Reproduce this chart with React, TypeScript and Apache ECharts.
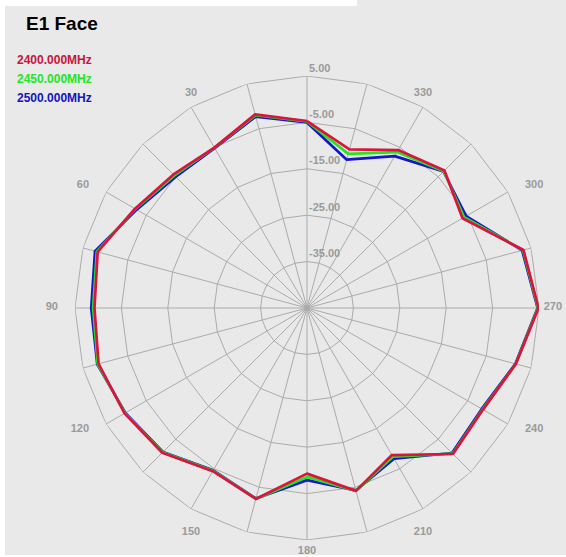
import React, { useEffect, useRef } from "react";
import * as echarts from "echarts";

// Measurement angles (degrees, counter-clockwise from top)
const angles = [0, 15, 30, 45, 60, 75, 90, 105, 120, 135, 150, 165, 180, 195, 210, 225, 240, 255, 270, 285, 300, 315, 330, 345];

const seriesNames = ["2400.000MHz", "2450.000MHz", "2500.000MHz"];
const seriesColors = ["#dc143c", "#22e622", "#1414c8"];
const legendColors = ["#c8143c", "#22e622", "#1414c0"];

// Gain values in dB, one per angle
const gain2400 = [-4.7, -1.8, -5.1, -4.3, -2.2, 1.7, 0.8, 1.5, 0.4, -0.9, -4.4, -2.4, -9.3, -4.2, -8.4, -0.5, -1.2, 1.6, 4.9, 3.3, -6.3, -3.1, -5.7, -9.6];
const gain2450 = [-4.8, -2.0, -5.1, -4.6, -2.3, 1.9, 1.1, 1.7, 0.3, -1.0, -4.5, -2.4, -8.6, -4.2, -8.0, -0.6, -1.3, 1.6, 4.8, 3.2, -5.9, -3.3, -6.2, -10.6];
const gain2500 = [-5.0, -2.3, -5.2, -5.0, -2.6, 2.3, 1.5, 1.8, 0.2, -1.1, -4.6, -2.5, -7.9, -4.3, -7.5, -0.8, -1.5, 1.5, 4.7, 3.0, -5.4, -3.4, -7.2, -11.9];

// Grid rings (dB), axis range and angle tick labels
const ringLevels = [5, -5, -15, -25, -35];
const radiusMin = -45;
const radiusMax = 5;
const radiusStep = 10;
const angleLabels = [30, 60, 90, 120, 150, 180, 210, 240, 270, 300, 330];

const W = 566;
const H = 557;
const labelFont = "bold 11px 'Liberation Sans', Arial, sans-serif";
const gridColor = "#ababab";
const labelColor = "#9a9a9a";

export default function App() {
  const ref = useRef<HTMLDivElement>(null);

  useEffect(() => {
    if (!ref.current) return;
    const chart = echarts.init(ref.current, undefined, { renderer: "svg" });

    const closed = (vals: number[]) => {
      const d = angles.map((a, i) => [vals[i], a]);
      d.push([vals[0], 360]);
      return d;
    };
    const ringAngles = angles.concat([360]);

    const ringSeries = ringLevels.map((lv) => ({
      type: "line",
      coordinateSystem: "polar",
      data: ringAngles.map((a) => [lv, a]),
      symbol: "none",
      silent: true,
      lineStyle: { color: gridColor, width: 1 },
      z: 1,
    }));

    const gains = [gain2400, gain2450, gain2500];
    const dataSeries = [2, 1, 0].map((i) => ({
      name: seriesNames[i],
      type: "line",
      coordinateSystem: "polar",
      data: closed(gains[i]),
      symbol: "none",
      lineStyle: { color: seriesColors[i], width: 2.7 },
      itemStyle: { color: seriesColors[i] },
      z: 3,
    }));

    chart.setOption({
      animation: false,
      backgroundColor: "#ffffff",
      graphic: [
        { id: "bg1", type: "rect", shape: { x: 5, y: 6, width: 561, height: 549 }, style: { fill: "#e9e9e9" }, z: -10, silent: true },
        { id: "bg2", type: "rect", shape: { x: 357, y: 0, width: 209, height: 6 }, style: { fill: "#e9e9e9" }, z: -10, silent: true },
      ],
      title: {
        text: "E1 Face",
        left: 26,
        top: 14,
        padding: 0,
        textStyle: { fontFamily: "Liberation Sans, Arial", fontWeight: "bold", fontSize: 19, color: "#000" },
      },
      legend: {
        orient: "vertical",
        left: 6,
        top: 48,
        itemWidth: 0,
        itemHeight: 0,
        itemGap: 5,
        selectedMode: false,
        data: seriesNames.map((n, i) => ({ name: n, textStyle: { color: legendColors[i] } })),
        textStyle: { fontFamily: "Liberation Sans, Arial", fontWeight: "bold", fontSize: 12, lineHeight: 14 },
      },
      polar: { center: [307, 308], radius: 232 },
      angleAxis: {
        type: "value",
        min: 0,
        max: 360,
        interval: 15,
        startAngle: 90,
        clockwise: false,
        axisLine: { show: false },
        axisTick: { show: false },
        axisLabel: { show: false },
        splitLine: { show: true, lineStyle: { color: gridColor, width: 1 } },
      },
      radiusAxis: {
        type: "value",
        min: radiusMin,
        max: radiusMax,
        interval: radiusStep,
        axisLine: { show: false },
        axisTick: { show: false },
        splitLine: { show: false },
        axisLabel: {
          color: labelColor,
          fontFamily: "Liberation Sans, Arial",
          fontWeight: "bold",
          fontSize: 11,
          align: "left",
          verticalAlign: "bottom",
          margin: -2,
          padding: [0, 0, 3, 0],
          formatter: (v: number) => (v === radiusMin ? "" : v.toFixed(2)),
        },
        z: 5,
      },
      series: [...ringSeries, ...dataSeries],
    });

    // Angle labels placed just outside the outer ring vertex (via the polar scale)
    const ctx = document.createElement("canvas").getContext("2d");
    if (ctx) ctx.font = labelFont;
    const textH = 9;
    const texts = angleLabels.map((a) => {
      const p = chart.convertToPixel({ seriesIndex: 0 } as any, [radiusMax, a]) as number[];
      const vx = p[0];
      const vy = p[1];
      const rad = (a * Math.PI) / 180;
      const sx = -Math.sin(rad);
      const sy = -Math.cos(rad);
      const label = String(a);
      const w = ctx ? ctx.measureText(label).width : label.length * 6.2;
      let lx: number;
      let ly: number;
      if (Math.abs(sx) > Math.abs(sy)) {
        lx = vx + Math.sign(sx) * (17 + w / 2);
        ly = vy + sy * 12 - 2;
      } else {
        lx = vx;
        ly = sy < 0 ? vy - 11 - textH / 2 : vy + 18 + textH / 2;
      }
      lx = Math.min(Math.max(lx, w / 2 + 4), W - 4 - w / 2);
      ly = Math.min(Math.max(ly, textH / 2 + 2), H - 7);
      return {
        id: "al" + a,
        type: "text",
        x: lx,
        y: ly,
        silent: true,
        z: 5,
        style: {
          text: label,
          fill: labelColor,
          font: labelFont,
          align: "center",
          verticalAlign: "middle",
          textAlign: "center",
          textVerticalAlign: "middle",
        },
      };
    });
    chart.setOption({ graphic: texts });

    return () => chart.dispose();
  }, []);

  return (
    <div
      ref={ref}
      style={{ position: "fixed", left: 0, top: 0, width: W, height: H }}
    />
  );
}
